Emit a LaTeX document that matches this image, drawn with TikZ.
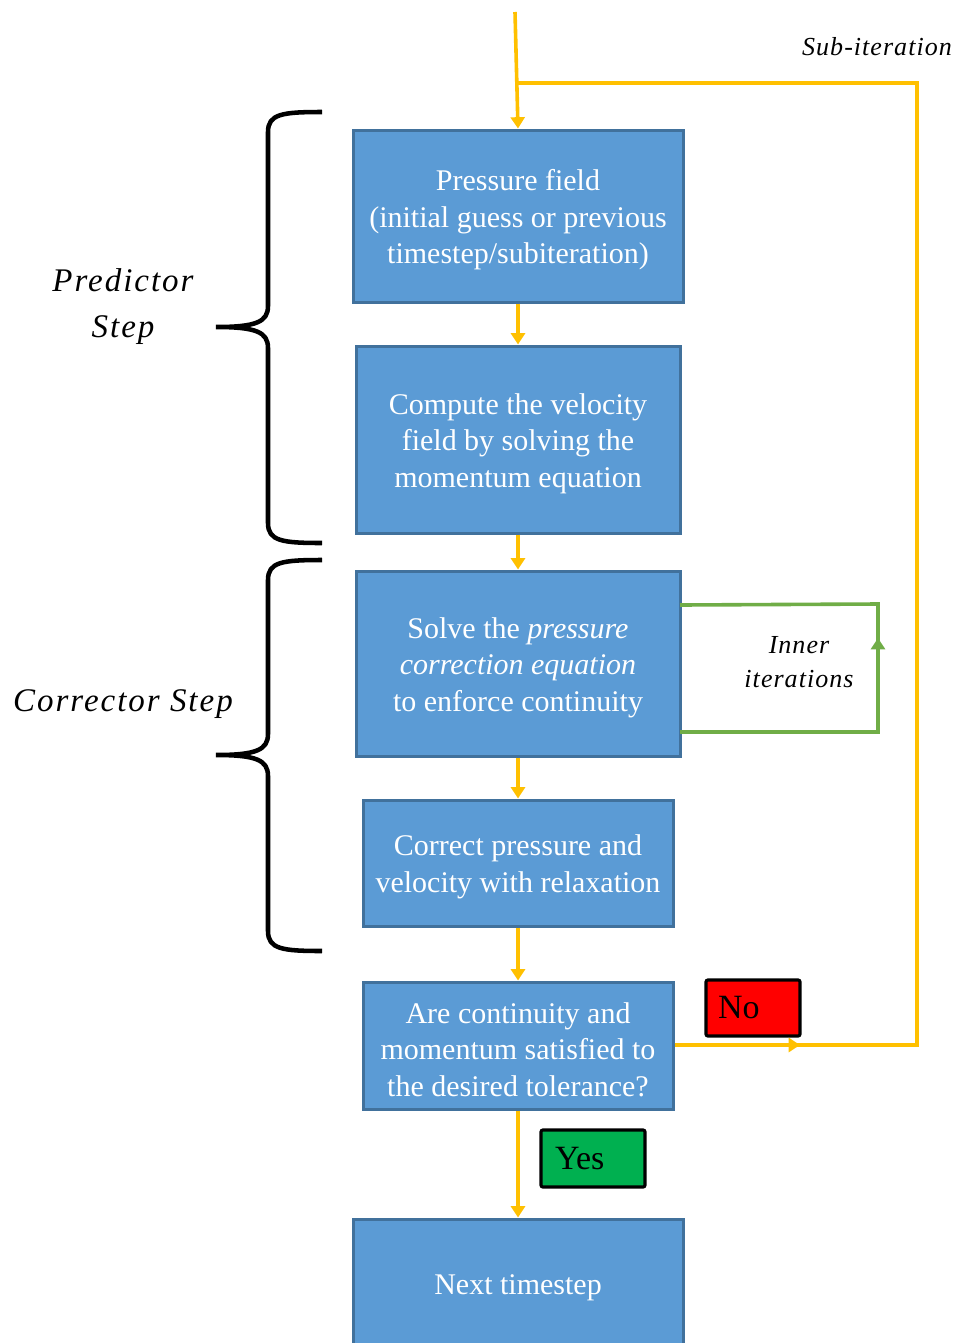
\documentclass[tikz,border=0pt]{standalone}
\usepackage{fontspec}
\setmainfont{Liberation Serif}
\newfontfamily\labfont[LetterSpace=6]{Liberation Serif}
\newfontfamily\smlabfont[LetterSpace=4]{Liberation Serif}
\usetikzlibrary{arrows.meta}
\definecolor{boxfill}{HTML}{5B9BD5}
\definecolor{boxline}{HTML}{41719C}
\definecolor{flowc}{HTML}{FFC000}
\definecolor{innerc}{HTML}{70AD47}
\definecolor{yesc}{HTML}{00B050}
\newcommand{\topstrut}{\rule{0pt}{21.5pt}}
\begin{document}
\begin{tikzpicture}[x=0.75pt,y=-0.75pt,
  stepbox/.style={draw=boxline,fill=boxfill,line width=2.25pt,inner sep=0pt,
    text=white,align=center,font=\fontsize{22.5}{27.4}\selectfont},
  flow/.style={draw=flowc,line width=2.7pt,-{Triangle[width=10.5pt,length=8.5pt]}},
  flowline/.style={draw=flowc,line width=2.7pt},
  innerline/.style={draw=innerc,line width=2.7pt},
  brace/.style={draw=black,line width=3.4pt},
  tag/.style={draw=black,line width=2.4pt,rounded corners=1.5pt,inner ysep=0pt,
    align=left,font=\fontsize{25.5}{30}\selectfont,anchor=center},
  steplabel/.style={align=center,font=\labfont\itshape\fontsize{24.75}{34.5}\selectfont},
  smalllabel/.style={align=center,font=\smlabfont\itshape\fontsize{19.5}{25.5}\selectfont}
]
\useasboundingbox (0,0) rectangle (957,1343);

\node[stepbox,minimum width=247.5pt,minimum height=129pt] (b1) at (518,216)
  {\topstrut Pressure field\\(initial guess or previous\\timestep/subiteration)};
\node[stepbox,minimum width=243pt,minimum height=140.25pt] (b2) at (518,439.5)
  {\topstrut Compute the velocity\\field by solving the\\momentum equation};
\node[stepbox,minimum width=243pt,minimum height=138.75pt] (b3) at (518,663.5)
  {\topstrut Solve the \textit{pressure}\\\textit{correction equation}\\to enforce continuity};
\node[stepbox,minimum width=232.5pt,minimum height=94.5pt] (b4) at (518,863)
  {\topstrut Correct pressure and\\velocity with relaxation};
\node[stepbox,minimum width=232.5pt,minimum height=95.25pt] (b5) at (518,1045.5)
  {\topstrut Are continuity and\\momentum satisfied to\\the desired tolerance?};
\node[stepbox,minimum width=247.5pt,minimum height=96pt] (b6) at (518,1283)
  {\topstrut Next timestep};

\node[tag,fill=red,minimum width=70.5pt,minimum height=42pt,inner xsep=9pt,text width=52.5pt] (no) at (753,1008) {No};
\node[tag,fill=yesc,minimum width=78pt,minimum height=42.75pt,inner xsep=10.5pt,text width=57pt] (yes) at (593,1158.5) {Yes};

\node[steplabel] (pred) at (123,307) {Predictor\\Step};
\node[steplabel] (corr) at (123,704) {Corrector Step};
\node[smalllabel] (inner) at (799,662) {Inner\\iterations};
\node[smalllabel] (sub) at (877,47) {Sub-iteration};

% main flow
\coordinate (top) at (515,12);
\draw[flow] (top) -- (b1.north);
\draw[flow] (b1) -- (b2);
\draw[flow] (b2) -- (b3);
\draw[flow] (b3) -- (b4);
\draw[flow] (b4) -- (b5);
\draw[flow] (b5) -- (b6);

% sub-iteration loop
\coordinate (lr) at (917,1045);
\coordinate (ur) at (917,83);
\coordinate (ul) at (518,83);
\coordinate (mid) at (800,1045);
\draw[flowline] (b5.east |- lr) -- (lr) -- (ur) -- (ul);
\draw[flow] (b5.east |- lr) -- (mid);

% inner iterations loop
\coordinate (ia) at (680,732);
\coordinate (ib) at (878,732);
\coordinate (ic) at (878,604);
\coordinate (id) at (680,605);
\coordinate (im) at (878,638);
\draw[innerline] (ia) -- (ib) -- (ic) -- (id);
\draw[innerline,-{Triangle[width=10.5pt,length=8.5pt]}] (ib) -- (im);

% braces
\draw[brace] (322,112) .. controls (282,112) and (268,114) .. (268,132) -- (268,306)
  .. controls (268,322) and (256,327) .. (216,327)
  .. controls (256,327) and (268,332) .. (268,348) -- (268,523)
  .. controls (268,541) and (282,543) .. (322,543);
\draw[brace] (322,560) .. controls (282,560) and (268,562) .. (268,580) -- (268,734)
  .. controls (268,750) and (256,755) .. (216,755)
  .. controls (256,755) and (268,760) .. (268,776) -- (268,931)
  .. controls (268,949) and (282,951) .. (322,951);
\end{tikzpicture}
\end{document}
